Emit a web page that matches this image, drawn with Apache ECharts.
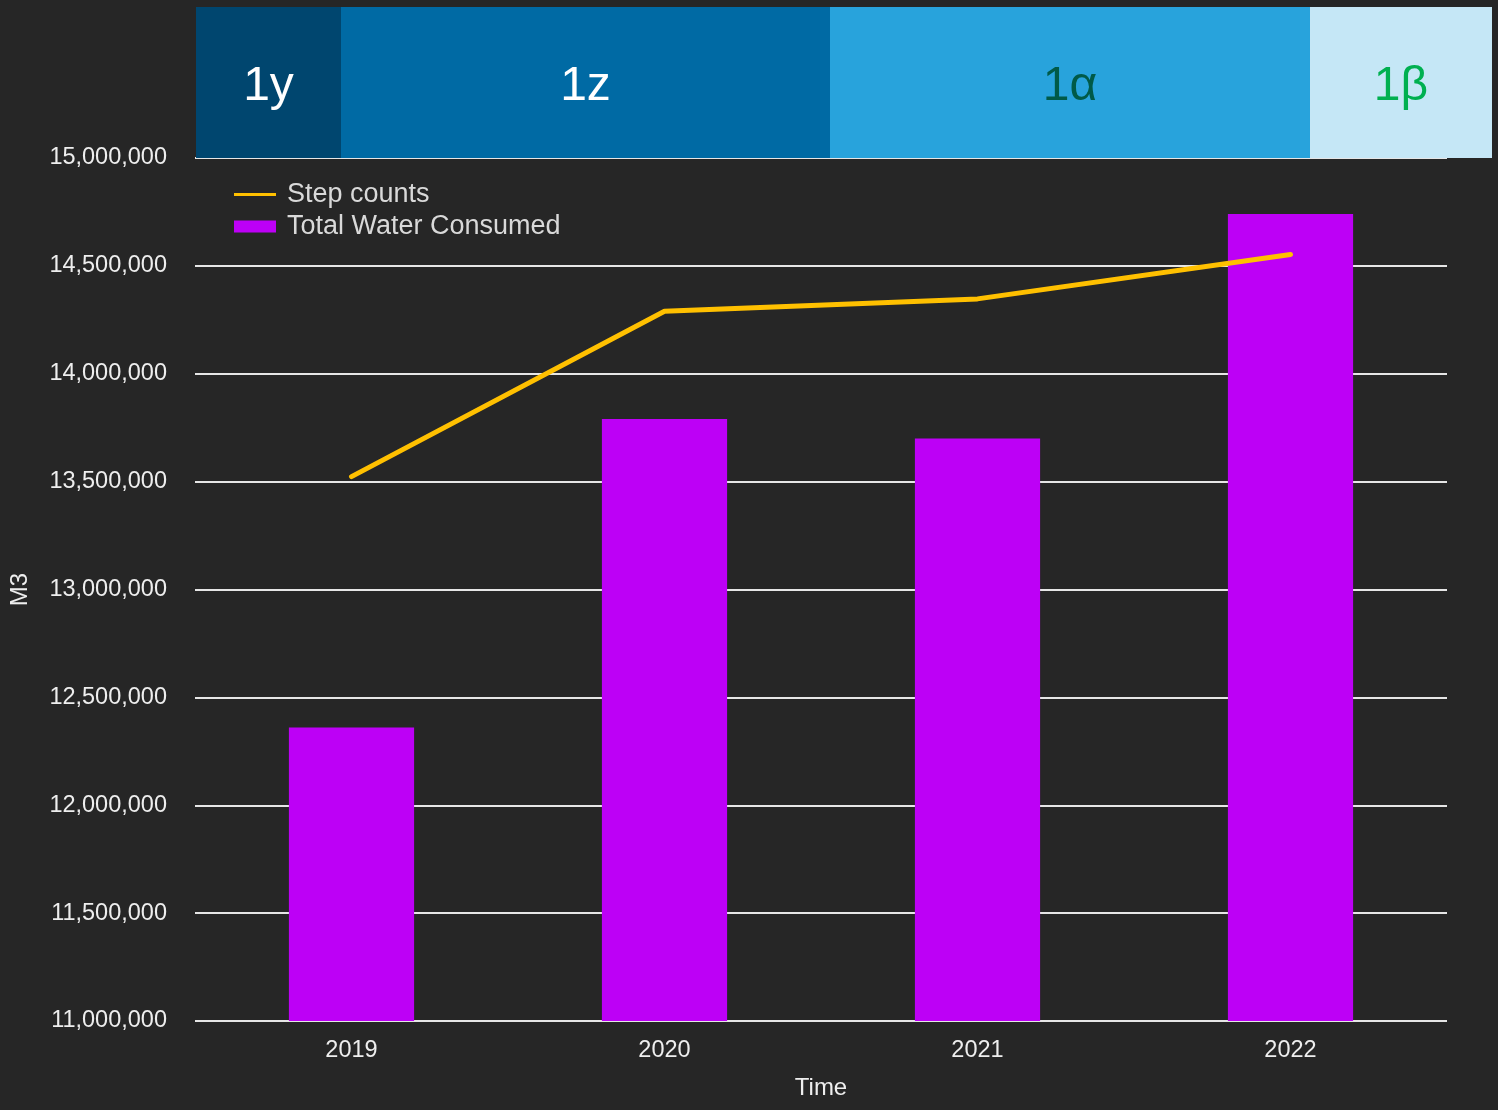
<!DOCTYPE html>
<html>
<head>
<meta charset="utf-8">
<title>Total Water Consumed</title>
<script src="https://cdn.jsdelivr.net/npm/echarts@6/dist/echarts.min.js"></script>
<style>
  html, body { margin: 0; padding: 0; background: #262626; }
  #main { width: 1498px; height: 1110px; }
</style>
</head>
<body>
<div id="main"></div>
<script>
// data
var years = ['2019', '2020', '2021', '2022'];
var waterConsumed = [12360000, 13790000, 13700000, 14740000];
var stepCounts = [13523000, 14290000, 14347000, 14553000];

// top bands: label, relative width, fill, text colour
var bandLabels = ['1y', '1z', '1\u03b1', '1\u03b2'];
var bandSpans = [145, 489, 480, 182];
var bandColors = ['#00466f', '#006aa4', '#28a3dc', '#c5e7f6'];
var bandTextColors = ['#ffffff', '#ffffff', '#005a48', '#00b050'];

var spanTotal = bandSpans.reduce(function(a, b) { return a + b; }, 0);
var font = '"Liberation Sans", Arial, sans-serif';

var bandSeries = bandLabels.map(function(name, i) {
  return {
    name: name,
    type: 'bar',
    xAxisIndex: 1,
    yAxisIndex: 1,
    stack: 'bands',
    barWidth: '100%',
    silent: true,
    itemStyle: { color: bandColors[i] },
    label: {
      show: true,
      position: 'inside',
      formatter: name,
      color: bandTextColors[i],
      fontSize: 48,
      fontFamily: font,
      offset: [0, 4]
    },
    data: [bandSpans[i]]
  };
});

var chart = echarts.init(document.getElementById('main'));
chart.setOption({
  backgroundColor: '#262626',
  animation: false,
  legend: {
    data: [
      { name: 'Step counts', icon: 'path://M0,0 L42,0 L42,3 L0,3 Z', itemStyle: { color: '#ffc000' } },
      { name: 'Total Water Consumed', icon: 'rect' }
    ],
    orient: 'vertical',
    left: 229,
    top: 176,
    itemWidth: 42,
    itemHeight: 12,
    itemGap: 5,
    textStyle: {
      color: '#d9d9d9',
      fontSize: 27,
      fontFamily: font,
      padding: [0, 0, 0, 6]
    }
  },
  grid: [
    { left: 195, right: 51, top: 158, bottom: 89, outerBoundsMode: 'none', containLabel: false },
    { left: 196, right: 6, top: 7, height: 151, outerBoundsMode: 'none', containLabel: false }
  ],
  xAxis: [
    {
      type: 'category',
      data: years,
      name: 'Time',
      nameLocation: 'middle',
      nameGap: 55,
      nameTextStyle: { color: '#eeeeee', fontSize: 24, fontFamily: font },
      axisLine: { show: false },
      axisTick: { show: false },
      axisLabel: { color: '#eeeeee', fontSize: 23.5, fontFamily: font, margin: 18 }
    },
    {
      type: 'value',
      gridIndex: 1,
      min: 0,
      max: spanTotal,
      show: false
    }
  ],
  yAxis: [
    {
      type: 'value',
      min: 11000000,
      max: 15000000,
      interval: 500000,
      name: 'M3',
      nameLocation: 'middle',
      nameRotate: 90,
      nameGap: 163,
      nameTextStyle: { color: '#eeeeee', fontSize: 24, fontFamily: font },
      axisLine: { show: false },
      axisTick: { show: false },
      axisLabel: {
        color: '#eeeeee',
        fontSize: 23.5,
        fontFamily: font,
        margin: 28,
        formatter: function(v) { return v.toLocaleString('en-US'); }
      },
      splitLine: { lineStyle: { color: '#e6e6e6', width: 2 } }
    },
    {
      type: 'category',
      gridIndex: 1,
      data: ['band'],
      show: false
    }
  ],
  series: [
    {
      name: 'Total Water Consumed',
      type: 'bar',
      barWidth: '40%',
      itemStyle: { color: '#bd00f6' },
      z: 2,
      data: waterConsumed
    },
    {
      name: 'Step counts',
      type: 'line',
      showSymbol: false,
      symbol: 'none',
      lineStyle: { color: '#ffc000', width: 5, cap: 'round' },
      itemStyle: { color: '#ffc000' },
      z: 3,
      data: stepCounts
    }
  ].concat(bandSeries)
});
</script>
</body>
</html>
